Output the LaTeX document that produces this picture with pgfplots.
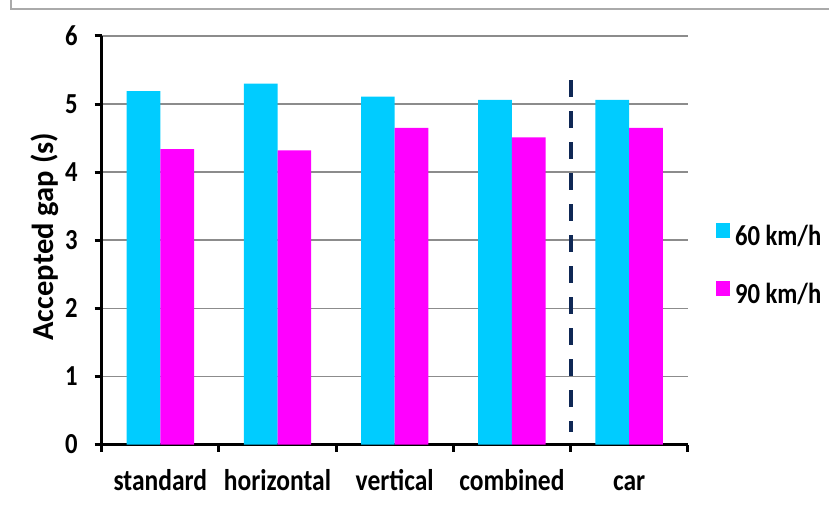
\documentclass[border=0pt]{standalone}
\usepackage{fontspec}
\setmainfont{Carlito}
\newfontfamily\narrowfont{Carlito}[FakeStretch=0.85]
\usepackage{pgfplots}
\pgfplotsset{compat=1.18}

\definecolor{barcyan}{RGB}{0,204,255}
\definecolor{barmag}{RGB}{255,0,255}
\definecolor{navy}{RGB}{15,40,85}
\definecolor{framegray}{RGB}{170,170,170}
\definecolor{gridgray}{RGB}{140,140,140}

\begin{document}
\begin{tikzpicture}[x=1pt,y=1pt]
  \useasboundingbox (0,0) rectangle (829,506);
  \draw[framegray, line width=1.5pt] (11,506) -- (11,497) -- (829,497);

  \begin{axis}[
      at={(101.7pt,61.5pt)}, anchor=south west,
      scale only axis,
      width=586pt, height=408.5pt,
      xmin=-0.5, xmax=4.5,
      ymin=0, ymax=6,
      clip=false,
      axis lines=left,
      axis line style={-, black, line width=3pt},
      tick align=outside,
      major tick length=7pt,
      minor tick length=7pt,
      ytick={0,1,2,3,4,5,6},
      xtick={0,1,2,3,4},
      xticklabels={standard,horizontal,vertical,combined,car},
      minor xtick={-0.5,0.5,1.5,2.5,3.5,4.5},
      major x tick style={draw=none},
      minor x tick style={black, line width=3pt},
      major y tick style={black, line width=3pt},
      ymajorgrids,
      grid style={gridgray, line width=1.5pt},
      /pgf/number format/assume math mode=true,
      yticklabel style={font=\narrowfont\bfseries\fontsize{29}{29}\selectfont,
        inner sep=0pt, xshift=-17pt},
      xticklabel style={font=\narrowfont\bfseries\fontsize{30}{30}\selectfont,
        anchor=base, yshift=-39pt},
      ylabel={Accepted gap (s)},
      every axis y label/.style={at={(axis description cs:-0.0823,0.509)},
        rotate=90, anchor=base,
        font=\bfseries\fontsize{30.5}{30.5}\selectfont},
      legend style={at={(1.048,0.437)}, anchor=west, draw=none, fill=none,
        inner sep=0pt, row sep=31pt, column sep=5pt,
        font=\narrowfont\bfseries\fontsize{29}{29}\selectfont,
        nodes={inner sep=0pt, text height=20pt, text depth=5pt}},
      legend cell align=left,
      legend image code/.code={\fill[#1] (0pt,0pt) rectangle (14pt,15pt);},
    ]

    \addplot[ybar, bar width=33.7pt, bar shift=-16.85pt, fill=barcyan, draw=none]
      coordinates {(0,5.19) (1,5.30) (2,5.11) (3,5.06) (4,5.06)};
    \addlegendentry{60 km/h}

    \addplot[ybar, bar width=33.7pt, bar shift=16.85pt, fill=barmag, draw=none]
      coordinates {(0,4.34) (1,4.32) (2,4.65) (3,4.51) (4,4.65)};
    \addlegendentry{90 km/h}

    % divider between the motorcycle cases and the car
    \addplot[sharp plot, no marks, navy, line width=4pt,
      dash pattern=on 17pt off 14pt, forget plot]
      coordinates {(3.5,5.35) (3.5,0.18)};

  \end{axis}
\end{tikzpicture}
\end{document}
